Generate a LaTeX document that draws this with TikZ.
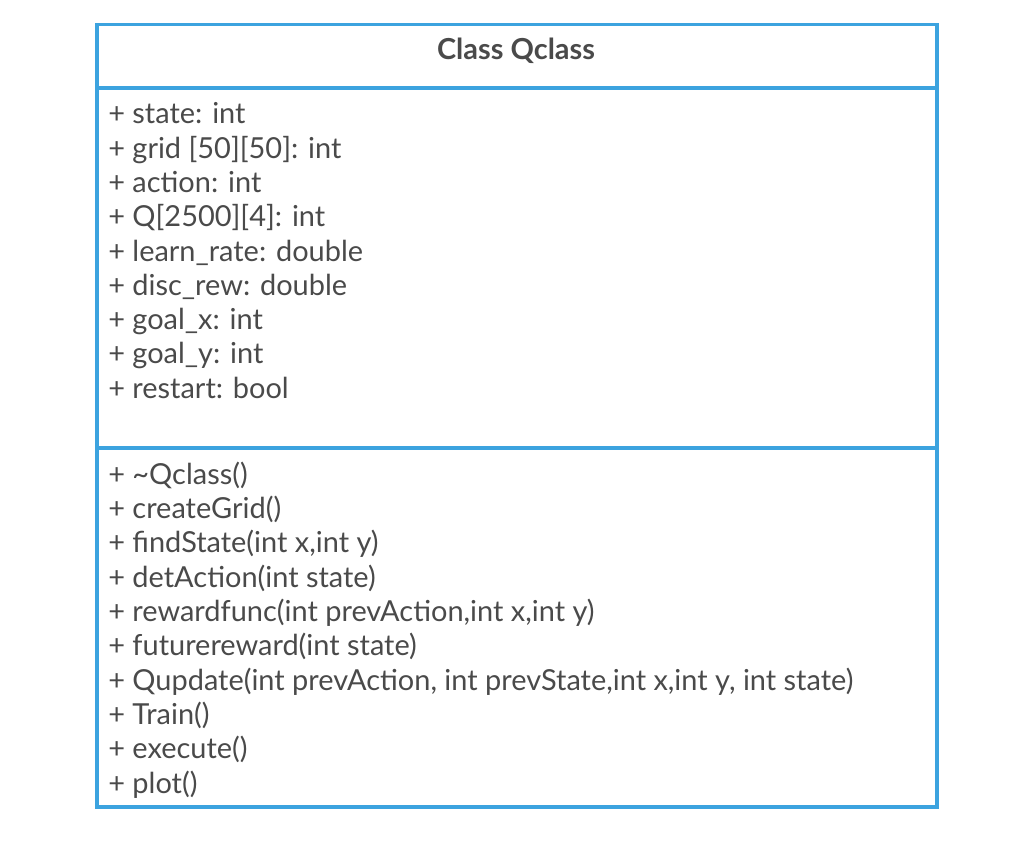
\documentclass[tikz,border=0pt]{standalone}
\usepackage{fontspec}
\setmainfont{Lato}
\usepackage{xcolor}
\usepackage{tikz}
\definecolor{umlblue}{HTML}{3CA3DF}
\definecolor{ink}{HTML}{4A4A4A}
\tikzset{
  box/.style={draw=umlblue, line width=2.5pt},
  member/.style={anchor=base west, inner sep=0pt, text=ink, font=\fontsize{21.7}{24}\selectfont},
  title/.style={anchor=base, inner sep=0pt, text=ink, font=\fontsize{21.7}{24}\selectfont\bfseries}
}

\begin{document}
\begin{tikzpicture}[x=0.75pt,y=-0.75pt]
  \useasboundingbox (0,0) rectangle (1019,850);
  \coordinate (NW) at (97,24.5);
  \coordinate (SE) at (937,807);
  \coordinate (headL) at (97,88);
  \coordinate (headR) at (937,88);
  \coordinate (attrL) at (97,448);
  \coordinate (attrR) at (937,448);

  \draw[box] (NW) rectangle (SE);
  \draw[box] (headL) -- (headR);
  \draw[box] (attrL) -- (attrR);

  \node[title] (cname) at (516,59.5) {Class Qclass};

  % attributes
  \foreach \txt [count=\i from 0] in {{+ state: int},{+ grid [50][50]: int},{+ action: int},
      {+ Q[2500][4]: int},{+ learn\_rate: double},{+ disc\_rew: double},
      {+ goal\_x: int},{+ goal\_y: int},{+ restart: bool}}
    \node[member] (attr\i) at (108,{123.8+34.3*\i}) {\txt};

  % methods
  \foreach \txt [count=\i from 0] in {{+ \textasciitilde Qclass()},{+ createGrid()},
      {+ findState(int x,int y)},{+ detAction(int state)},
      {+ rewardfunc(int prevAction,int x,int y)},{+ futurereward(int state)},
      {+ Qupdate(int prevAction, int prevState,int x,int y, int state)},
      {+ Train()},{+ execute()},{+ plot()}}
    \node[member] (meth\i) at (108,{484.3+34.3*\i}) {\txt};
\end{tikzpicture}
\end{document}
